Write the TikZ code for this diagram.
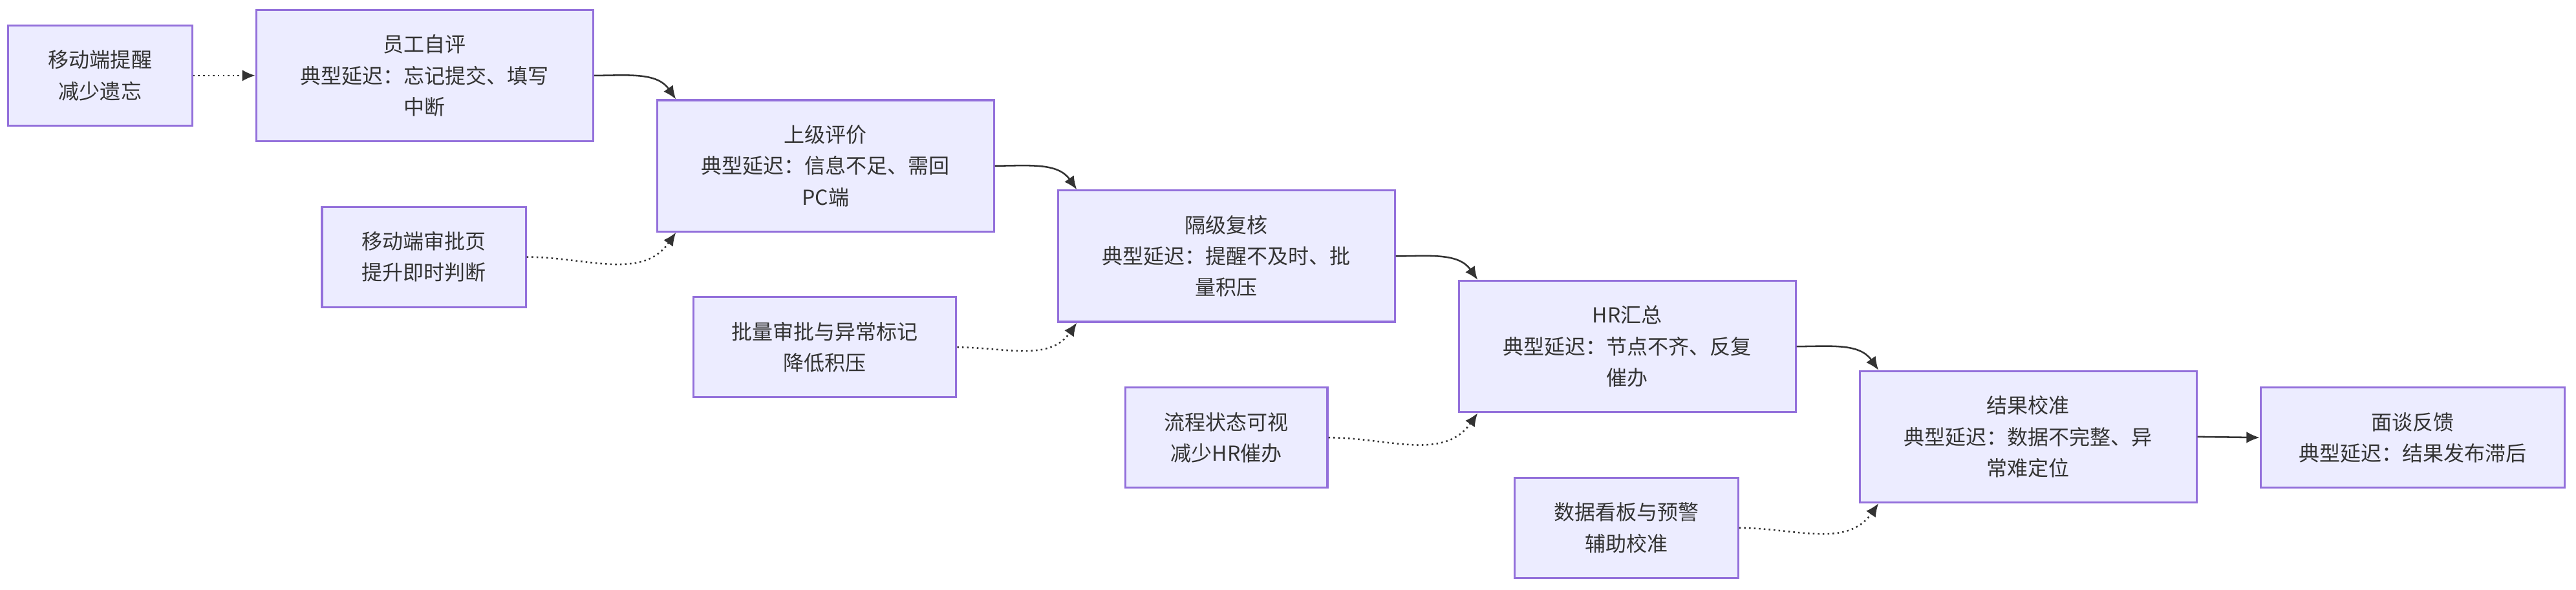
\documentclass[tikz,border=0pt]{standalone}
\usepackage{fontspec}
\setmainfont{Noto Sans CJK SC}
\usetikzlibrary{arrows.meta}
\definecolor{boxfill}{HTML}{ECECFF}
\definecolor{boxline}{HTML}{9370DB}
\definecolor{ink}{HTML}{333333}
\begin{document}
\begin{tikzpicture}[
    x=0.5pt, y=-0.5pt,
    stage/.style={rectangle, draw=boxline, fill=boxfill, line width=0.6pt, text=ink,
      font=\fontsize{6.3pt}{9.5pt}\selectfont, align=center, minimum height=40pt, text width=88pt, inner sep=0pt},
    fix/.style={rectangle, draw=boxline, fill=boxfill, line width=0.6pt, text=ink,
      font=\fontsize{6.3pt}{9.5pt}\selectfont, align=center, minimum height=30.5pt, inner sep=0pt},
    flow/.style={draw=ink, line width=0.5pt, -{Latex[length=4pt,width=3.5pt]}},
    hint/.style={flow, densely dotted}
]
\useasboundingbox (0,0) rectangle (1568,359);

% Main stages
\node[stage, minimum width=102.5pt] (self) at (258.5,46) {员工自评\\典型延迟：忘记提交、填写\\中断};
\node[stage, minimum width=102.5pt] (boss) at (502.5,101) {上级评价\\典型延迟：信息不足、需回\\PC端};
\node[stage, minimum width=102.5pt] (skip) at (746.5,156) {隔级复核\\典型延迟：提醒不及时、批\\量积压};
\node[stage, minimum width=102.5pt] (hr) at (990.5,211) {HR汇总\\典型延迟：节点不齐、反复\\催办};
\node[stage, minimum width=102.5pt] (calib) at (1234.5,266) {结果校准\\典型延迟：数据不完整、异\\常难定位};
\node[fix, minimum width=92.5pt] (talk) at (1468.5,266.5) {面谈反馈\\典型延迟：结果发布滞后};

% Improvements
\node[fix, minimum width=56pt] (remind) at (61,46) {移动端提醒\\减少遗忘};
\node[fix, minimum width=62pt] (mobile) at (258,156.5) {移动端审批页\\提升即时判断};
\node[fix, minimum width=80pt] (batch) at (502,211.5) {批量审批与异常标记\\降低积压};
\node[fix, minimum width=61.5pt] (status) at (746.5,266.5) {流程状态可视\\减少HR催办};
\node[fix, minimum width=68pt] (board) at (990,321.5) {数据看板与预警\\辅助校准};

% Flow
\draw[flow] (self.east) to[out=0,in=125] ([xshift=6pt]boss.north west);
\draw[flow] (boss.east) to[out=0,in=125] ([xshift=6pt]skip.north west);
\draw[flow] (skip.east) to[out=0,in=125] ([xshift=6pt]hr.north west);
\draw[flow] (hr.east) to[out=0,in=125] ([xshift=6pt]calib.north west);
\draw[flow] (calib.east) -- (talk.west);

% Hints
\draw[hint] (remind.east) -- (self.west);
\draw[hint] (mobile.east) to[out=0,in=235] ([xshift=6pt]boss.south west);
\draw[hint] (batch.east) to[out=0,in=235] ([xshift=6pt]skip.south west);
\draw[hint] (status.east) to[out=0,in=235] ([xshift=6pt]hr.south west);
\draw[hint] (board.east) to[out=0,in=235] ([xshift=6pt]calib.south west);
\end{tikzpicture}
\end{document}
